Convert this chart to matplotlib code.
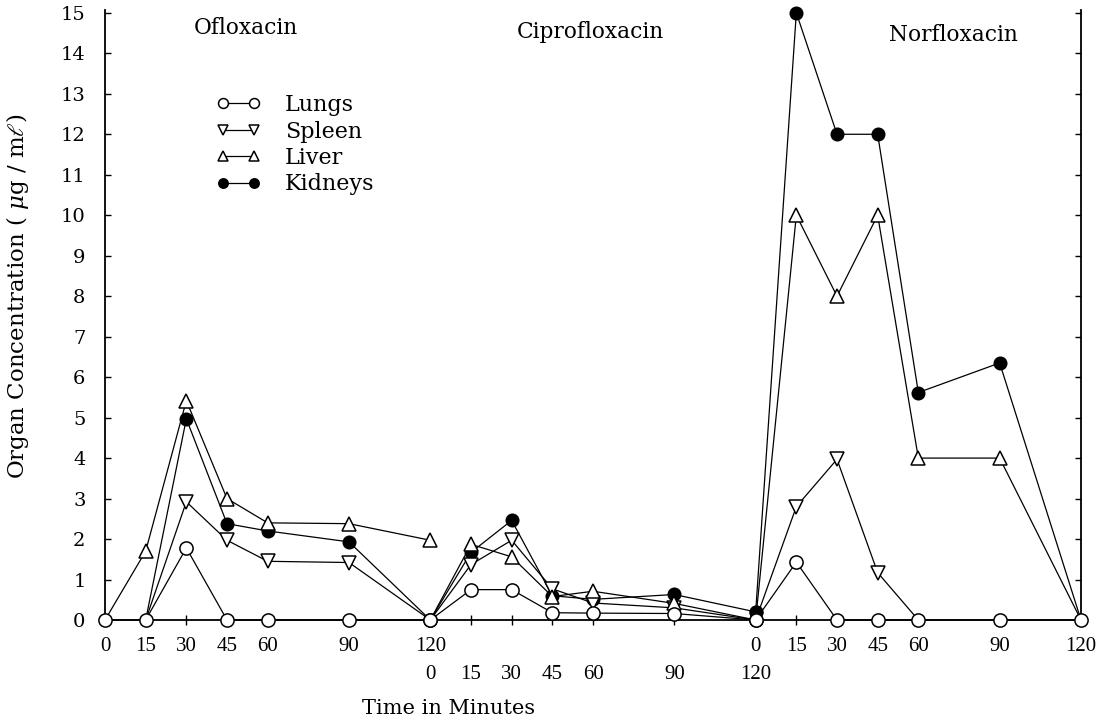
#!/usr/bin/env python3
import numpy as np
import matplotlib
matplotlib.use("Agg")
import matplotlib.pyplot as plt

plt.rcParams['font.family'] = ['DejaVu Serif']
plt.rcParams['mathtext.fontset'] = 'dejavuserif'

# sampling times (minutes) used for every drug
minutes = [0, 15, 30, 45, 60, 90, 120]
drugs = ['Ofloxacin', 'Ciprofloxacin', 'Norfloxacin']
organs = ['Lungs', 'Spleen', 'Liver', 'Kidneys']

# organ concentrations (ug/ml), one list per drug and organ
lungs_oflox = [0, 0, 1.78, 0, 0, 0, 0]
spleen_oflox = [np.nan, 0, 2.92, 1.97, 1.45, 1.42, 0]
liver_oflox = [0, 1.7, 5.42, 3.0, 2.4, 2.38, 1.97]
kidneys_oflox = [np.nan, 0, 4.97, 2.38, 2.2, 1.93, 0]

lungs_cipro = [0, 0.75, 0.75, 0.18, 0.17, 0.16, 0]
spleen_cipro = [0, 1.37, 1.97, 0.77, 0.42, 0.3, 0]
liver_cipro = [0, 1.87, 1.56, 0.58, 0.71, 0.41, 0]
kidneys_cipro = [0, 1.67, 2.46, 0.6, 0.51, 0.63, 0.2]

lungs_norflox = [0, 1.43, 0, 0, 0, 0, 0]
spleen_norflox = [0, 2.8, 3.97, 1.17, 0, np.nan, np.nan]
liver_norflox = [0, 10.0, 8.0, 10.0, 4.0, 4.0, 0]
kidneys_norflox = [0.2, 15.0, 12.0, 12.0, 5.62, 6.35, 0]

data = {
    'Ofloxacin': [lungs_oflox, spleen_oflox, liver_oflox, kidneys_oflox],
    'Ciprofloxacin': [lungs_cipro, spleen_cipro, liver_cipro, kidneys_cipro],
    'Norfloxacin': [lungs_norflox, spleen_norflox, liver_norflox, kidneys_norflox],
}

styles = {
    'Lungs': dict(marker='o', mfc='white', ms=9.5, zorder=6),
    'Spleen': dict(marker='v', mfc='white', ms=10, zorder=4),
    'Liver': dict(marker='^', mfc='white', ms=10, zorder=5),
    'Kidneys': dict(marker='o', mfc='black', ms=9, zorder=3),
}

fig = plt.figure(figsize=(11.05, 7.19), dpi=100)
ax = fig.add_axes([105 / 1105, 1 - 620 / 719, (1081 - 105) / 1105, (620 - 10) / 719])

handles = []
for i, drug in enumerate(drugs):
    x = np.array(minutes) + 120 * i
    for organ, vals in zip(organs, data[drug]):
        vals = np.array(vals, dtype=float)
        # zero points carry no symbol except for the lungs baseline
        show = [(organ == 'Lungs') or (v > 0) for v in vals]
        line, = ax.plot(x, vals, color='black', lw=0.9, mec='black', mew=1.1,
                        markevery=show, clip_on=False, **styles[organ])
        if i == 0:
            handles.append(line)

ax.set_xlim(0, 360)
ax.set_ylim(0, 15.07)

ax.spines['top'].set_visible(False)
for s in ['left', 'right', 'bottom']:
    ax.spines[s].set_linewidth(1.3)

ax.set_yticks(range(0, 16))
ax.tick_params(axis='y', direction='in', length=4, width=1, right=True,
               labelsize=14, pad=14)

# Ofloxacin and Norfloxacin times on the first row, Ciprofloxacin below
major_x = [m for m in minutes] + [240 + m for m in minutes]
major_lab = [str(m) for m in minutes] * 2
ax.set_xticks(major_x, major_lab)
ax.set_xticks([120 + m for m in minutes], [str(m) for m in minutes], minor=True)
ax.xaxis.remove_overlapping_locs = False
for lab in ax.get_xticklabels(which='both'):
    lab.set_family('Liberation Serif')
ax.tick_params(axis='x', which='major', direction='inout', length=7, width=1,
               labelsize=15, pad=9)
ax.tick_params(axis='x', which='minor', direction='inout', length=7, width=1,
               labelsize=15, pad=29)

ax.set_ylabel(r'Organ Concentration ( $\mu$g / m$\ell$)', fontsize=16.5)
ax.yaxis.set_label_coords(-0.076, 0.531)
fig.text(449 / 1105, 1 - 708 / 719, 'Time in Minutes', fontsize=15,
         ha='center', va='center')

title_pos = [(52, 14.63), (179, 14.53), (313, 14.46)]
for drug, (tx, ty) in zip(drugs, title_pos):
    ax.text(tx, ty, drug, fontsize=15.7, ha='center', va='center')

ax.legend(handles, organs, loc='upper left', frameon=False, fontsize=16,
          bbox_to_anchor=(205 / 1105, 1 - 83 / 719), bbox_transform=fig.transFigure,
          markerscale=0.75, handlelength=2.0, handletextpad=1.1,
          labelspacing=0.2, borderpad=0, numpoints=2)

fig.savefig('out.png', dpi=100)
